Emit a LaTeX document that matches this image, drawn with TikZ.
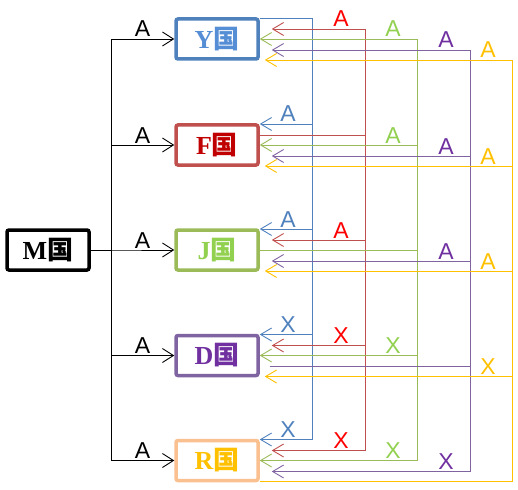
\documentclass[tikz,border=0pt]{standalone}
\usepackage{fontspec}
\setmainfont{Liberation Serif}
\newfontfamily\cjk{Noto Sans CJK SC}
\newfontfamily\lblfont{Liberation Sans}
\usetikzlibrary{arrows.meta,calc}
\definecolor{cblue}{HTML}{4F81BD}
\definecolor{cred}{HTML}{C0504D}
\definecolor{cgreen}{HTML}{9BBB59}
\definecolor{cpurple}{HTML}{8064A2}
\definecolor{cyellow}{HTML}{FFC000}
\definecolor{cpeach}{HTML}{FAC090}
\definecolor{tblue}{HTML}{558ED5}
\definecolor{tred}{HTML}{C00000}
\definecolor{tgreen}{HTML}{92D050}
\definecolor{tpurple}{HTML}{7030A0}
\definecolor{lred}{HTML}{FF0000}
\newcommand\guo{{\cjk 国}}

\begin{document}
\begin{tikzpicture}[x=1pt, y=-1pt,
  cbox/.style={draw, line width=3.5pt, rounded corners=2pt, fill=white, minimum width=82pt, minimum height=40pt, inner sep=0pt, font=\fontsize{26}{26}\selectfont\bfseries},
  lbl/.style={font=\fontsize{23}{23}\selectfont\lblfont, anchor=base, inner sep=0pt, yshift=2pt},
  blbl/.style={lbl, xshift=-24pt},
  tline/.style={-{Straight Barb[length=11pt,width=14pt]}, line width=0.9pt, black},
  cline/.style={-{Straight Barb[length=11pt,width=13pt]}, line width=0.9pt},
]
\useasboundingbox (0,0) rectangle (518,489);
% countries
\node[cbox, draw=black] (nM) at (48,250) {M\guo};
\node[cbox, draw=cblue, text=tblue] (nY) at (217,39) {Y\guo};
\node[cbox, draw=cred, text=tred] (nF) at (217,145) {F\guo};
\node[cbox, draw=cgreen, text=tgreen] (nJ) at (217,250) {J\guo};
\node[cbox, draw=cpurple, text=tpurple] (nD) at (217,355.5) {D\guo};
\node[cbox, draw=cpeach, text=cyellow] (nR) at (217,460.5) {R\guo};
% M to all
\coordinate (trunk) at (111,250);
\foreach \t in {nY,nF,nJ,nD,nR}
  \draw[tline] (nM.east) -- (trunk) |- node[lbl, pos=0.75] {A} (\t.west);
% ports on the right side
\foreach \n in {nY,nF,nJ,nD,nR}{
  \coordinate (\n-b) at ([yshift=21pt]\n.east);
  \coordinate (\n-r) at ([yshift=10pt]\n.east);
  \coordinate (\n-g) at (\n.east);
  \coordinate (\n-p) at ([yshift=-11pt]\n.east);
  \coordinate (\n-y) at ([yshift=-21pt]\n.east);
}
\coordinate (busB) at (312,0);
\coordinate (busR) at (365,0);
\coordinate (busG) at (417,0);
\coordinate (busP) at (470,0);
\coordinate (busY) at (512,0);
% Y
\foreach \t/\l in {nF/A,nJ/A,nD/X,nR/X}
  \draw[cline, cblue] (nY-b) -| (busB |- \t-b) node[blbl, text=cblue] {\l} -- (\t-b);
% F
\foreach \t/\l in {nY/A,nJ/A,nD/X,nR/X}
  \draw[cline, cred, shorten >=12pt] (nF-r) -| (busR |- \t-r) node[blbl, text=lred] {\l} -- (\t-r);
% J
\foreach \t/\l in {nY/A,nF/A,nD/X,nR/X}
  \draw[cline, cgreen] (nJ-g) -| (busG |- \t-g) node[blbl, text=tgreen] {\l} -- (\t-g);
% D
\foreach \t/\l in {nY/A,nF/A,nJ/A,nR/X}
  \draw[cline, cpurple, shorten <=10pt, shorten >=12pt] (nD-p) -| (busP |- \t-p) node[blbl, text=tpurple] {\l} -- (\t-p);
% R
\foreach \t/\l in {nY/A,nF/A,nJ/A,nD/X}
  \draw[cline, cyellow, shorten >=5pt] (nR-y) -| (busY |- \t-y) node[blbl, text=cyellow] {\l} -- (\t-y);
\end{tikzpicture}
\end{document}
